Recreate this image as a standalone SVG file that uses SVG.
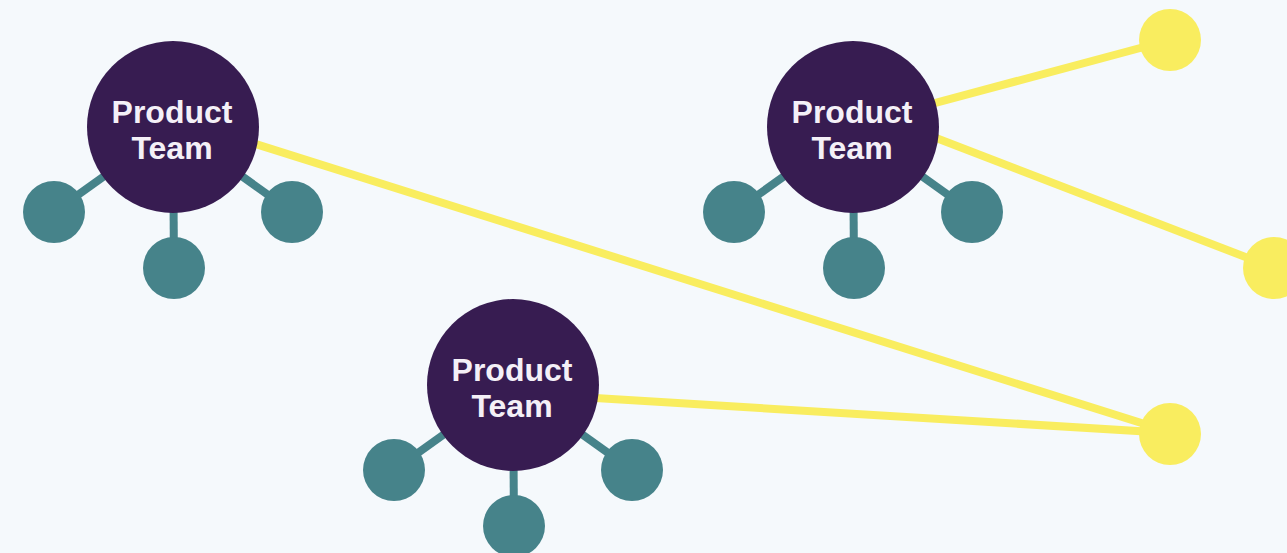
<svg xmlns="http://www.w3.org/2000/svg" width="1287" height="553" viewBox="0 0 1287 553">
<style>
.team{fill:#371c51}
.leaf{fill:#46838a}
.spoke{stroke:#46838a;stroke-width:8}
.link{stroke:#f9ed5f;stroke-width:8;fill:none}
.ext{fill:#f9ed5f}
.lbl{font-family:"Liberation Sans",Arial,sans-serif;font-weight:bold;font-size:32px;fill:#f4f0f7;text-anchor:middle}
</style>
<rect width="1287" height="553" fill="#f5f9fc"/>
<g id="connectors">
<line class="link" x1="173" y1="118" x2="1170" y2="432"/>
<line class="link" x1="853" y1="125" x2="1170" y2="40"/>
<line class="link" x1="853" y1="106" x2="1274" y2="268"/>
<line class="link" x1="513" y1="393" x2="1170" y2="433"/>
</g>
<g id="team1">
<line class="spoke" x1="173" y1="127" x2="54" y2="212"/>
<line class="spoke" x1="173" y1="127" x2="174" y2="268"/>
<line class="spoke" x1="173" y1="127" x2="292" y2="212"/>
<circle class="leaf" cx="54" cy="212" r="31"/>
<circle class="leaf" cx="174" cy="268" r="31"/>
<circle class="leaf" cx="292" cy="212" r="31"/>
<circle class="team" cx="173" cy="127" r="86"/>
<text class="lbl" x="172" y="123">Product</text>
<text class="lbl" x="172" y="159">Team</text>
</g>
<g id="team2">
<line class="spoke" x1="853" y1="127" x2="734" y2="212"/>
<line class="spoke" x1="853" y1="127" x2="854" y2="268"/>
<line class="spoke" x1="853" y1="127" x2="972" y2="212"/>
<circle class="leaf" cx="734" cy="212" r="31"/>
<circle class="leaf" cx="854" cy="268" r="31"/>
<circle class="leaf" cx="972" cy="212" r="31"/>
<circle class="team" cx="853" cy="127" r="86"/>
<text class="lbl" x="852" y="123">Product</text>
<text class="lbl" x="852" y="159">Team</text>
</g>
<g id="team3">
<line class="spoke" x1="513" y1="385" x2="394" y2="470"/>
<line class="spoke" x1="513" y1="385" x2="514" y2="526"/>
<line class="spoke" x1="513" y1="385" x2="632" y2="470"/>
<circle class="leaf" cx="394" cy="470" r="31"/>
<circle class="leaf" cx="514" cy="526" r="31"/>
<circle class="leaf" cx="632" cy="470" r="31"/>
<circle class="team" cx="513" cy="385" r="86"/>
<text class="lbl" x="512" y="381">Product</text>
<text class="lbl" x="512" y="417">Team</text>
</g>
<g id="ext1"><circle class="ext" cx="1170" cy="40" r="31"/></g>
<g id="ext2"><circle class="ext" cx="1274" cy="268" r="31"/></g>
<g id="ext3"><circle class="ext" cx="1170" cy="434" r="31"/></g>
</svg>
